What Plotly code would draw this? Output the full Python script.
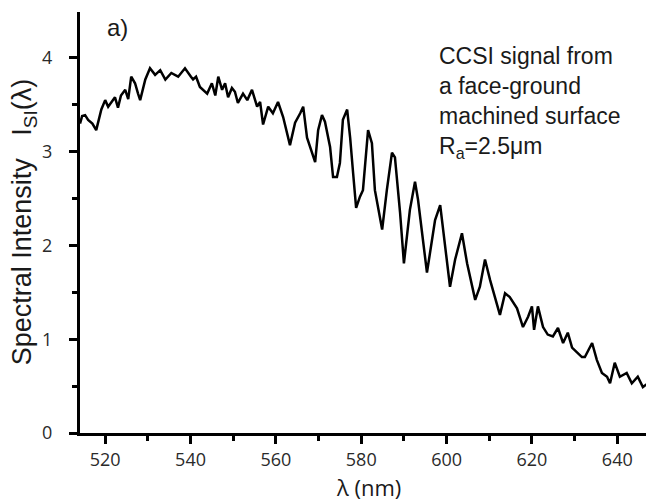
import plotly.graph_objects as go

# wavelength (nm) and spectral intensity
wavelength = [
    514.1, 514.6, 515.3, 516.0, 517.0, 517.9, 519.1, 520.0, 520.7, 521.4,
    522.3, 523.0, 523.7, 524.7, 525.4, 526.1, 527.0, 527.7, 528.2, 529.4,
    530.5, 531.7, 532.9, 534.1, 535.5, 537.1, 538.7, 540.1, 540.6, 541.3,
    542.2, 543.9, 545.0, 545.8, 546.5, 547.4, 548.1, 548.8, 549.7, 550.4,
    551.1, 552.3, 553.3, 554.4, 555.6, 556.3, 557.0, 558.2, 559.3, 560.5,
    561.7, 563.3, 564.5, 565.7, 566.4, 567.3, 568.0, 569.2, 569.9, 570.8,
    571.5, 572.7, 573.4, 574.3, 575.0, 575.7, 576.7, 577.4, 578.1, 578.8,
    579.7, 580.4, 581.6, 582.5, 583.2, 584.9, 586.0, 587.2, 587.9, 589.1,
    590.0, 591.4, 592.6, 593.3, 595.4, 597.3, 598.5, 599.6, 600.8, 602.0,
    603.6, 604.8, 606.7, 607.8, 609.0, 610.2, 611.3, 612.5, 613.7, 614.8,
    616.5, 617.9, 619.1, 620.0, 620.5, 621.4, 622.6, 623.7, 624.9, 626.1,
    627.3, 628.4, 629.4, 630.5, 631.7, 632.4, 634.1, 635.2, 636.4, 637.6,
    638.3, 639.4, 640.6, 642.2, 643.4, 644.8, 646.0, 647.2, 648.1, 648.3,
]
intensity = [
    3.30, 3.38, 3.39, 3.34, 3.30, 3.23, 3.45, 3.55, 3.48, 3.52,
    3.58, 3.47, 3.60, 3.66, 3.56, 3.80, 3.73, 3.62, 3.55, 3.77,
    3.89, 3.82, 3.87, 3.77, 3.84, 3.80, 3.89, 3.80, 3.77, 3.80,
    3.69, 3.62, 3.73, 3.60, 3.80, 3.66, 3.73, 3.58, 3.68, 3.64,
    3.52, 3.62, 3.55, 3.66, 3.48, 3.53, 3.29, 3.48, 3.41, 3.53,
    3.37, 3.07, 3.31, 3.41, 3.48, 3.15, 3.05, 2.89, 3.23, 3.39,
    3.32, 3.05, 2.73, 2.73, 2.88, 3.34, 3.45, 3.15, 2.77, 2.40,
    2.52, 2.59, 3.23, 3.09, 2.59, 2.17, 2.59, 2.99, 2.94, 2.35,
    1.81, 2.38, 2.68, 2.49, 1.71, 2.27, 2.43, 1.98, 1.56, 1.85,
    2.13, 1.81, 1.42, 1.56, 1.85, 1.63, 1.45, 1.26, 1.49, 1.45,
    1.33, 1.13, 1.24, 1.35, 1.10, 1.35, 1.13, 1.05, 1.03, 1.12,
    0.96, 1.07, 0.91, 0.86, 0.81, 0.81, 0.96, 0.78, 0.64, 0.60,
    0.53, 0.75, 0.60, 0.64, 0.53, 0.60, 0.49, 0.53, 0.43, 0.28,
]

x_ticks = [520, 540, 560, 580, 600, 620, 640]
y_ticks = [0, 1, 2, 3, 4]

fig = go.Figure()
fig.add_trace(go.Scatter(
    x=wavelength, y=intensity, mode="lines",
    line=dict(color="black", width=2.5), showlegend=False,
))

axis_common = dict(
    showgrid=False, zeroline=False, showline=True, linecolor="black",
    linewidth=3, ticks="outside", ticklen=8, tickwidth=2.5, tickcolor="black",
    tickfont=dict(family="Open Sans", size=18, color="#2a2a2a"),
)
# the page body adds an 8px margin, so the figure is sized to fit inside it
fig.update_layout(
    width=646, height=496,
    margin=dict(l=72, r=0, t=4, b=71),
    paper_bgcolor="white", plot_bgcolor="white",
    xaxis=dict(range=[514.1, 648.6], tickvals=x_ticks,
               minor=dict(dtick=10, tick0=510, ticklen=5, tickwidth=2.5,
                          ticks="outside", tickcolor="black"),
               **axis_common),
    yaxis=dict(range=[0, 4.49], tickvals=y_ticks, ticklabelstandoff=13,
               minor=dict(dtick=0.5, tick0=0, ticklen=5, tickwidth=2.5,
                          ticks="outside", tickcolor="black"),
               **axis_common),
)

fig.add_annotation(
    text="Spectral Intensity&nbsp;&nbsp;&nbsp;I<sub>SI</sub>(λ)",
    xref="paper", yref="paper", x=-0.098, y=0.50, textangle=-90,
    xanchor="center", yanchor="middle",
    showarrow=False, font=dict(family="Liberation Sans", size=27, color="#1a1a1a"),
)
fig.add_annotation(
    text="λ (nm)", xref="paper", yref="paper", x=0.503, y=-0.128,
    xanchor="center", yanchor="middle",
    showarrow=False, font=dict(family="Open Sans", size=22, color="#1a1a1a"),
)
fig.add_annotation(
    text="a)", xref="paper", yref="paper", x=0.0436, y=1.0,
    xanchor="left", yanchor="top", showarrow=False,
    font=dict(family="Liberation Sans", size=24, color="#1a1a1a"),
)
fig.add_annotation(
    text="CCSI signal from<br>a face-ground<br>machined surface<br>R<sub>a</sub>=2.5μm",
    xref="paper", yref="paper", x=0.622, y=0.931,
    xanchor="left", yanchor="top", align="left", showarrow=False,
    font=dict(family="Liberation Sans", size=23, color="#1a1a1a"),
)

fig.write_html("out.html")
